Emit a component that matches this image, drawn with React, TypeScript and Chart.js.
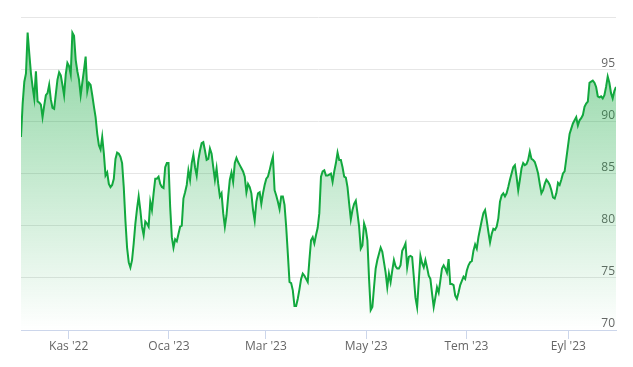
import React, { useEffect, useRef } from 'react';
import { Chart, registerables } from 'chart.js';

Chart.register(...registerables);

// Daily closing values, Oct 2022 – Sep 2023
const prices: number[] = [
  // Oct – early Nov 2022
  88.5, 91.7, 93.8, 94.6, 98.5, 96.5, 94.6, 93.3, 92.2, 94.8, 91.9, 91.8, 91.6, 90.4, 91.5,
  92.5, 92.7, 93.5, 92.1, 91.3, 91.2, 92.6, 94.0, 94.7, 94.4, 93.5, 92.5, 94.5, 95.6, 95.3,
  94.5, 98.5, 98.2, 95.9, 94.8, 94.0, 92.5, 93.7, 94.9, 96.2, 92.9, 93.7, 93.5, 92.5, 91.4,
  90.4, 88.8, 87.7, 87.3, 88.5, 86.9, 84.8, 85.1, 84.0, 83.7, 83.9, 84.5, 86.4, 87.0, 86.9,
  // Nov 2022 – Jan 2023
  86.6, 86.0, 83.7, 80.5, 77.9, 76.5, 76.0, 76.7, 78.3, 80.2, 81.6, 82.8, 81.5, 79.9, 79.1,
  80.4, 80.2, 79.9, 82.3, 81.5, 83.1, 84.5, 84.5, 84.7, 84.0, 83.7, 83.6, 85.6, 86.0, 86.0,
  81.8, 78.9, 77.9, 78.7, 78.5, 79.2, 79.9, 80.0, 82.6, 83.2, 83.9, 85.3, 84.4, 86.0, 86.8,
  85.6, 84.8, 86.3, 87.2, 87.9, 88.0, 87.2, 86.3, 86.4, 87.4, 86.9, 85.6, 84.4, 85.5, 84.0,
  82.8,
  // Feb – Apr 2023
  83.1, 81.2, 79.9, 81.0, 82.8, 84.4, 85.1, 84.2, 86.0, 86.5, 86.1, 85.8, 85.5, 85.2, 84.7,
  83.2, 84.0, 83.7, 83.1, 81.5, 80.5, 82.3, 83.1, 83.2, 82.1, 83.1, 83.9, 84.5, 84.7, 85.3,
  86.0, 86.6, 83.4, 82.9, 82.3, 81.6, 82.8, 82.8, 82.0, 79.9, 77.3, 74.6, 74.5, 73.8, 72.3,
  72.3, 73.0, 73.9, 74.9, 75.4, 75.2, 74.9, 74.6, 76.7, 78.6, 78.9, 78.3, 79.1, 79.8, 81.2,
  84.7,
  // Apr – Jun 2023
  85.2, 85.3, 84.8, 84.8, 84.9, 85.0, 84.2, 85.2, 86.0, 87.0, 86.3, 86.3, 85.6, 84.7, 84.6,
  83.7, 82.1, 80.6, 81.5, 82.1, 82.4, 81.2, 79.9, 77.8, 78.1, 80.2, 79.7, 78.6, 74.9, 71.9,
  72.2, 74.1, 75.9, 76.7, 77.3, 77.9, 77.5, 76.5, 75.5, 74.1, 75.4, 74.6, 75.7, 76.7, 76.1,
  75.9, 75.9, 76.2, 77.6, 77.9, 78.3, 76.0, 77.0, 77.1, 77.0, 75.1, 73.1, 72.2, 74.7, 77.1,
  // Jun – Aug 2023
  76.4, 76.0, 76.7, 76.0, 75.2, 74.9, 73.5, 72.2, 73.1, 74.1, 73.6, 74.7, 75.9, 76.2, 75.9,
  75.5, 76.8, 74.4, 74.4, 74.3, 73.3, 73.0, 73.6, 74.3, 74.7, 75.1, 74.9, 75.7, 76.2, 76.5,
  76.6, 77.6, 78.2, 77.8, 78.9, 79.7, 80.5, 81.2, 81.5, 80.5, 79.4, 78.4, 79.2, 79.7, 79.6,
  79.9, 80.7, 82.3, 82.9, 83.1, 82.8, 83.1, 83.7, 84.4, 85.0, 85.6, 85.8, 84.7, 83.4, 84.4,
  // Aug – Sep 2023
  85.5, 86.0, 85.8, 85.9, 86.3, 87.1, 86.4, 86.3, 86.1, 85.6, 85.0, 84.0, 83.1, 83.4, 84.0,
  84.4, 84.2, 83.9, 83.4, 82.7, 82.6, 83.1, 84.1, 83.9, 84.4, 85.0, 85.2, 86.4, 87.6, 88.8,
  89.3, 89.8, 90.1, 90.4, 89.6, 90.1, 90.3, 90.6, 91.4, 91.7, 91.9, 93.7, 93.8, 93.9, 93.7,
  93.3, 92.4, 92.3, 92.4, 92.2, 92.5, 93.3, 94.3, 93.7, 92.7, 92.2, 92.9, 93.3,
];

// Days counted from 1 Oct 2022
const START_DAY = 2; // 3 Oct 2022
const END_DAY = 364; // 30 Sep 2023
const monthTickDays = [31, 92, 151, 212, 273, 335];
const monthTickLabels = ["Kas '22", "Oca '23", "Mar '23", "May '23", "Tem '23", "Eyl '23"];
const Y_MIN = 70;
const Y_MAX = 100;
const Y_STEP = 5;

const LINE_COLOR = '#12a83e';
const FONT = { family: '"Open Sans", "DejaVu Sans", sans-serif', size: 12 };

export default function App() {
  const ref = useRef<HTMLCanvasElement>(null);

  useEffect(() => {
    document.body.style.margin = '0';
    const points = prices.map((v, i) => ({
      x: START_DAY + (i * (END_DAY - START_DAY)) / (prices.length - 1),
      y: v,
    }));
    const chart = new Chart(ref.current!, {
      type: 'line',
      data: {
        datasets: [
          {
            data: points,
            borderColor: LINE_COLOR,
            borderWidth: 2,
            pointRadius: 0,
            tension: 0,
            fill: 'start',
            backgroundColor: (c: any) => {
              const { ctx, chartArea } = c.chart;
              if (!chartArea) return 'rgba(18,168,62,0.25)';
              const g = ctx.createLinearGradient(0, chartArea.top, 0, chartArea.bottom);
              g.addColorStop(0, 'rgba(18,168,62,0.5)');
              g.addColorStop(1, 'rgba(18,168,62,0)');
              return g;
            },
          },
        ],
      },
      options: {
        animation: false,
        responsive: false,
        maintainAspectRatio: false,
        layout: { padding: { left: 21, right: 17, top: 17, bottom: 0 } },
        plugins: { legend: { display: false }, tooltip: { enabled: false } },
        scales: {
          x: {
            type: 'linear',
            min: START_DAY,
            max: END_DAY,
            afterBuildTicks: (s: any) => {
              s.ticks = monthTickDays.map((v) => ({ value: v }));
            },
            afterFit: (s: any) => {
              s.height = 37;
            },
            ticks: {
              autoSkip: false,
              maxRotation: 0,
              padding: 0,
              color: '#666666',
              font: FONT,
              callback: (_v: any, i: number) => monthTickLabels[i],
            },
            grid: {
              drawOnChartArea: false,
              drawTicks: true,
              tickLength: 9,
              tickColor: '#ccd6eb',
            },
            border: { display: true, color: '#ccd6eb' },
          },
          y: {
            position: 'right',
            min: Y_MIN,
            max: Y_MAX,
            afterFit: (s: any) => {
              s.width = 0;
            },
            ticks: {
              stepSize: Y_STEP,
              mirror: true,
              padding: -1,
              labelOffset: -6,
              color: '#666666',
              font: FONT,
              callback: (v: any) => (v === Y_MAX ? '' : String(v)),
            },
            grid: { color: '#e6e6e6', drawTicks: false },
            border: { display: false },
          },
        },
      },
    });
    return () => chart.destroy();
  }, []);

  return <canvas ref={ref} width={633} height={367} style={{ display: 'block' }} />;
}
